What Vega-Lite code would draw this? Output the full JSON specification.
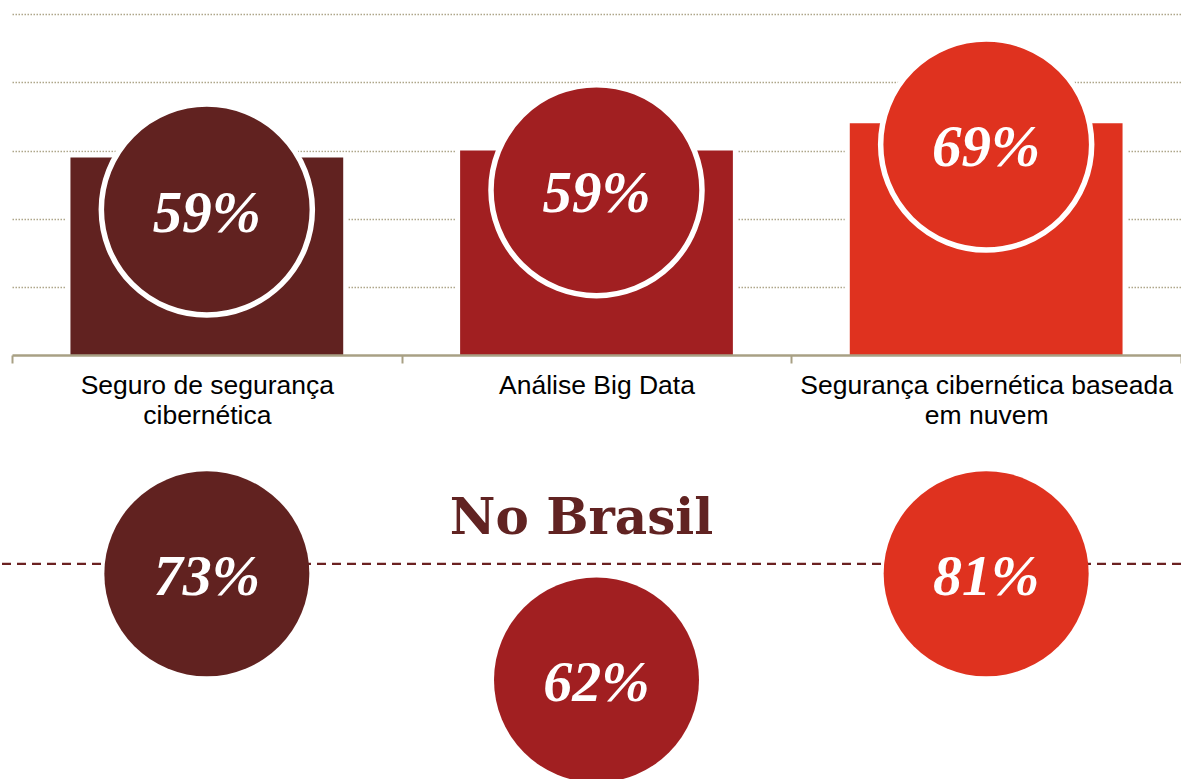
{
  "$schema": "https://vega.github.io/schema/vega-lite/v6.json",
  "width": 1181,
  "height": 779,
  "autosize": {"type": "none"},
  "padding": 0,
  "background": "white",
  "config": {"view": {"stroke": null}},
  "datasets": {
    "global": [
      {"categoria": "Seguro de segurança cibernética", "barra": 58, "percentual": 0.59},
      {"categoria": "Análise Big Data", "barra": 60, "percentual": 0.59},
      {"categoria": "Segurança cibernética baseada em nuvem", "barra": 68, "percentual": 0.69}
    ],
    "brasil": [
      {"categoria": "Seguro de segurança cibernética", "percentual": 0.73},
      {"categoria": "Análise Big Data", "percentual": 0.62},
      {"categoria": "Segurança cibernética baseada em nuvem", "percentual": 0.81}
    ]
  },
  "layer": [
    {
      "data": {"name": "global"},
      "mark": {"type": "bar", "fill": "white", "stroke": "white", "strokeWidth": 10, "width": {"band": 0.7}},
      "encoding": {
        "x": {"field": "categoria", "type": "nominal", "sort": null, "title": null, "scale": {"type": "band", "range": [12, 1181], "paddingInner": 0, "paddingOuter": 0},
          "axis": {"orient": "bottom", "offset": -424, "title": null, "domainColor": "#a8a084", "domainWidth": 2.5, "tickColor": "#a8a084", "tickWidth": 2, "tickSize": 8, "tickBand": "extent", "labelFont": "Liberation Sans", "labelFontSize": 26.5, "labelColor": "#000000", "labelPadding": 9, "labelLimit": 0, "labelOverlap": false, "labelBound": false, "labelAngle": 0, "labelLineHeight": 30, "zindex": 1, "grid": false,
            "labelExpr": "datum.label == 'Seguro de segurança cibernética' ? ['Seguro de segurança', 'cibernética'] : datum.label == 'Segurança cibernética baseada em nuvem' ? ['Segurança cibernética baseada', 'em nuvem'] : datum.label"}},
        "y": {"field": "barra", "type": "quantitative", "title": null, "scale": {"domain": [-124.4, 104.2], "nice": false, "zero": false},
          "axis": {"grid": true, "values": [20, 40, 60, 80, 100], "gridDash": [1.5, 1.5], "gridColor": "#aea68a", "gridWidth": 1.6, "domain": false, "ticks": false, "labels": false, "title": null, "zindex": 0}}
      }
    },
    {
      "data": {"name": "global"},
      "mark": {"type": "bar", "width": {"band": 0.7}},
      "encoding": {
        "x": {"field": "categoria", "type": "nominal", "sort": null, "title": null, "scale": {"type": "band", "range": [12, 1181], "paddingInner": 0, "paddingOuter": 0},
          "axis": {"orient": "bottom", "offset": -424, "title": null, "domainColor": "#a8a084", "domainWidth": 2.5, "tickColor": "#a8a084", "tickWidth": 2, "tickSize": 8, "tickBand": "extent", "labelFont": "Liberation Sans", "labelFontSize": 26.5, "labelColor": "#000000", "labelPadding": 9, "labelLimit": 0, "labelOverlap": false, "labelBound": false, "labelAngle": 0, "labelLineHeight": 30, "zindex": 1, "grid": false,
            "labelExpr": "datum.label == 'Seguro de segurança cibernética' ? ['Seguro de segurança', 'cibernética'] : datum.label == 'Segurança cibernética baseada em nuvem' ? ['Segurança cibernética baseada', 'em nuvem'] : datum.label"}},
        "y": {"field": "barra", "type": "quantitative", "title": null, "scale": {"domain": [-124.4, 104.2], "nice": false, "zero": false},
          "axis": {"grid": true, "values": [20, 40, 60, 80, 100], "gridDash": [1.5, 1.5], "gridColor": "#aea68a", "gridWidth": 1.6, "domain": false, "ticks": false, "labels": false, "title": null, "zindex": 0}},
        "color": {"field": "categoria", "type": "nominal", "sort": null, "scale": {"domain": ["Seguro de segurança cibernética", "Análise Big Data", "Segurança cibernética baseada em nuvem"], "range": ["#612220", "#a11f21", "#df321f"]}, "legend": null}
      }
    },
    {
      "data": {"name": "global"},
      "transform": [{"filter": {"field": "categoria", "equal": "Seguro de segurança cibernética"}}],
      "encoding": {
        "x": {"field": "categoria", "type": "nominal", "sort": null, "title": null, "scale": {"type": "band", "range": [12, 1181], "paddingInner": 0, "paddingOuter": 0},
          "axis": {"orient": "bottom", "offset": -424, "title": null, "domainColor": "#a8a084", "domainWidth": 2.5, "tickColor": "#a8a084", "tickWidth": 2, "tickSize": 8, "tickBand": "extent", "labelFont": "Liberation Sans", "labelFontSize": 26.5, "labelColor": "#000000", "labelPadding": 9, "labelLimit": 0, "labelOverlap": false, "labelBound": false, "labelAngle": 0, "labelLineHeight": 30, "zindex": 1, "grid": false,
            "labelExpr": "datum.label == 'Seguro de segurança cibernética' ? ['Seguro de segurança', 'cibernética'] : datum.label == 'Segurança cibernética baseada em nuvem' ? ['Segurança cibernética baseada', 'em nuvem'] : datum.label"}},
        "y": {"datum": 42.7, "type": "quantitative", "title": null, "scale": {"domain": [-124.4, 104.2], "nice": false, "zero": false},
          "axis": {"grid": true, "values": [20, 40, 60, 80, 100], "gridDash": [1.5, 1.5], "gridColor": "#aea68a", "gridWidth": 1.6, "domain": false, "ticks": false, "labels": false, "title": null, "zindex": 0}},
        "color": {"field": "categoria", "type": "nominal", "sort": null, "scale": {"domain": ["Seguro de segurança cibernética", "Análise Big Data", "Segurança cibernética baseada em nuvem"], "range": ["#612220", "#a11f21", "#df321f"]}, "legend": null}
      },
      "layer": [
        {"mark": {"type": "point", "shape": "circle", "filled": true, "size": 44521, "stroke": "white", "strokeWidth": 5.5, "opacity": 1}},
        {"mark": {"type": "text", "font": "Liberation Serif", "fontStyle": "italic", "fontWeight": "bold", "fontSize": 59, "align": "center", "baseline": "middle", "dy": 4},
         "encoding": {"text": {"field": "percentual", "type": "quantitative", "format": ".0%"}, "color": {"value": "white"}}}
      ]
    },
    {
      "data": {"name": "global"},
      "transform": [{"filter": {"field": "categoria", "equal": "Análise Big Data"}}],
      "encoding": {
        "x": {"field": "categoria", "type": "nominal", "sort": null, "title": null, "scale": {"type": "band", "range": [12, 1181], "paddingInner": 0, "paddingOuter": 0},
          "axis": {"orient": "bottom", "offset": -424, "title": null, "domainColor": "#a8a084", "domainWidth": 2.5, "tickColor": "#a8a084", "tickWidth": 2, "tickSize": 8, "tickBand": "extent", "labelFont": "Liberation Sans", "labelFontSize": 26.5, "labelColor": "#000000", "labelPadding": 9, "labelLimit": 0, "labelOverlap": false, "labelBound": false, "labelAngle": 0, "labelLineHeight": 30, "zindex": 1, "grid": false,
            "labelExpr": "datum.label == 'Seguro de segurança cibernética' ? ['Seguro de segurança', 'cibernética'] : datum.label == 'Segurança cibernética baseada em nuvem' ? ['Segurança cibernética baseada', 'em nuvem'] : datum.label"}},
        "y": {"datum": 48.4, "type": "quantitative", "title": null, "scale": {"domain": [-124.4, 104.2], "nice": false, "zero": false},
          "axis": {"grid": true, "values": [20, 40, 60, 80, 100], "gridDash": [1.5, 1.5], "gridColor": "#aea68a", "gridWidth": 1.6, "domain": false, "ticks": false, "labels": false, "title": null, "zindex": 0}},
        "color": {"field": "categoria", "type": "nominal", "sort": null, "scale": {"domain": ["Seguro de segurança cibernética", "Análise Big Data", "Segurança cibernética baseada em nuvem"], "range": ["#612220", "#a11f21", "#df321f"]}, "legend": null}
      },
      "layer": [
        {"mark": {"type": "point", "shape": "circle", "filled": true, "size": 44521, "stroke": "white", "strokeWidth": 5.5, "opacity": 1}},
        {"mark": {"type": "text", "font": "Liberation Serif", "fontStyle": "italic", "fontWeight": "bold", "fontSize": 59, "align": "center", "baseline": "middle", "dy": 4},
         "encoding": {"text": {"field": "percentual", "type": "quantitative", "format": ".0%"}, "color": {"value": "white"}}}
      ]
    },
    {
      "data": {"name": "global"},
      "transform": [{"filter": {"field": "categoria", "equal": "Segurança cibernética baseada em nuvem"}}],
      "encoding": {
        "x": {"field": "categoria", "type": "nominal", "sort": null, "title": null, "scale": {"type": "band", "range": [12, 1181], "paddingInner": 0, "paddingOuter": 0},
          "axis": {"orient": "bottom", "offset": -424, "title": null, "domainColor": "#a8a084", "domainWidth": 2.5, "tickColor": "#a8a084", "tickWidth": 2, "tickSize": 8, "tickBand": "extent", "labelFont": "Liberation Sans", "labelFontSize": 26.5, "labelColor": "#000000", "labelPadding": 9, "labelLimit": 0, "labelOverlap": false, "labelBound": false, "labelAngle": 0, "labelLineHeight": 30, "zindex": 1, "grid": false,
            "labelExpr": "datum.label == 'Seguro de segurança cibernética' ? ['Seguro de segurança', 'cibernética'] : datum.label == 'Segurança cibernética baseada em nuvem' ? ['Segurança cibernética baseada', 'em nuvem'] : datum.label"}},
        "y": {"datum": 61.8, "type": "quantitative", "title": null, "scale": {"domain": [-124.4, 104.2], "nice": false, "zero": false},
          "axis": {"grid": true, "values": [20, 40, 60, 80, 100], "gridDash": [1.5, 1.5], "gridColor": "#aea68a", "gridWidth": 1.6, "domain": false, "ticks": false, "labels": false, "title": null, "zindex": 0}},
        "color": {"field": "categoria", "type": "nominal", "sort": null, "scale": {"domain": ["Seguro de segurança cibernética", "Análise Big Data", "Segurança cibernética baseada em nuvem"], "range": ["#612220", "#a11f21", "#df321f"]}, "legend": null}
      },
      "layer": [
        {"mark": {"type": "point", "shape": "circle", "filled": true, "size": 44521, "stroke": "white", "strokeWidth": 5.5, "opacity": 1}},
        {"mark": {"type": "text", "font": "Liberation Serif", "fontStyle": "italic", "fontWeight": "bold", "fontSize": 59, "align": "center", "baseline": "middle", "dy": 4},
         "encoding": {"text": {"field": "percentual", "type": "quantitative", "format": ".0%"}, "color": {"value": "white"}}}
      ]
    },
    {
      "data": {"values": [{}]},
      "mark": {"type": "rule", "stroke": "#6b2121", "strokeWidth": 2.2, "strokeDash": [9, 6]},
      "encoding": {
        "y": {"datum": -61.3, "type": "quantitative", "title": null, "scale": {"domain": [-124.4, 104.2], "nice": false, "zero": false},
          "axis": {"grid": true, "values": [20, 40, 60, 80, 100], "gridDash": [1.5, 1.5], "gridColor": "#aea68a", "gridWidth": 1.6, "domain": false, "ticks": false, "labels": false, "title": null, "zindex": 0}}
      }
    },
    {
      "data": {"name": "brasil"},
      "transform": [{"filter": {"field": "categoria", "oneOf": ["Seguro de segurança cibernética", "Segurança cibernética baseada em nuvem"]}}],
      "encoding": {
        "x": {"field": "categoria", "type": "nominal", "sort": null, "title": null, "scale": {"type": "band", "range": [12, 1181], "paddingInner": 0, "paddingOuter": 0},
          "axis": {"orient": "bottom", "offset": -424, "title": null, "domainColor": "#a8a084", "domainWidth": 2.5, "tickColor": "#a8a084", "tickWidth": 2, "tickSize": 8, "tickBand": "extent", "labelFont": "Liberation Sans", "labelFontSize": 26.5, "labelColor": "#000000", "labelPadding": 9, "labelLimit": 0, "labelOverlap": false, "labelBound": false, "labelAngle": 0, "labelLineHeight": 30, "zindex": 1, "grid": false,
            "labelExpr": "datum.label == 'Seguro de segurança cibernética' ? ['Seguro de segurança', 'cibernética'] : datum.label == 'Segurança cibernética baseada em nuvem' ? ['Segurança cibernética baseada', 'em nuvem'] : datum.label"}},
        "y": {"datum": -64.2, "type": "quantitative", "title": null, "scale": {"domain": [-124.4, 104.2], "nice": false, "zero": false},
          "axis": {"grid": true, "values": [20, 40, 60, 80, 100], "gridDash": [1.5, 1.5], "gridColor": "#aea68a", "gridWidth": 1.6, "domain": false, "ticks": false, "labels": false, "title": null, "zindex": 0}},
        "color": {"field": "categoria", "type": "nominal", "sort": null, "scale": {"domain": ["Seguro de segurança cibernética", "Análise Big Data", "Segurança cibernética baseada em nuvem"], "range": ["#612220", "#a11f21", "#df321f"]}, "legend": null}
      },
      "layer": [
        {"mark": {"type": "point", "shape": "circle", "filled": true, "size": 42025, "strokeWidth": 0, "opacity": 1}},
        {"mark": {"type": "text", "font": "Liberation Serif", "fontStyle": "italic", "fontWeight": "bold", "fontSize": 58, "align": "center", "baseline": "middle", "dy": 4},
         "encoding": {"text": {"field": "percentual", "type": "quantitative", "format": ".0%"}, "color": {"value": "white"}}}
      ]
    },
    {
      "data": {"name": "brasil"},
      "transform": [{"filter": {"field": "categoria", "equal": "Análise Big Data"}}],
      "encoding": {
        "x": {"field": "categoria", "type": "nominal", "sort": null, "title": null, "scale": {"type": "band", "range": [12, 1181], "paddingInner": 0, "paddingOuter": 0},
          "axis": {"orient": "bottom", "offset": -424, "title": null, "domainColor": "#a8a084", "domainWidth": 2.5, "tickColor": "#a8a084", "tickWidth": 2, "tickSize": 8, "tickBand": "extent", "labelFont": "Liberation Sans", "labelFontSize": 26.5, "labelColor": "#000000", "labelPadding": 9, "labelLimit": 0, "labelOverlap": false, "labelBound": false, "labelAngle": 0, "labelLineHeight": 30, "zindex": 1, "grid": false,
            "labelExpr": "datum.label == 'Seguro de segurança cibernética' ? ['Seguro de segurança', 'cibernética'] : datum.label == 'Segurança cibernética baseada em nuvem' ? ['Segurança cibernética baseada', 'em nuvem'] : datum.label"}},
        "y": {"datum": -95.35, "type": "quantitative", "title": null, "scale": {"domain": [-124.4, 104.2], "nice": false, "zero": false},
          "axis": {"grid": true, "values": [20, 40, 60, 80, 100], "gridDash": [1.5, 1.5], "gridColor": "#aea68a", "gridWidth": 1.6, "domain": false, "ticks": false, "labels": false, "title": null, "zindex": 0}},
        "color": {"field": "categoria", "type": "nominal", "sort": null, "scale": {"domain": ["Seguro de segurança cibernética", "Análise Big Data", "Segurança cibernética baseada em nuvem"], "range": ["#612220", "#a11f21", "#df321f"]}, "legend": null}
      },
      "layer": [
        {"mark": {"type": "point", "shape": "circle", "filled": true, "size": 42025, "strokeWidth": 0, "opacity": 1}},
        {"mark": {"type": "text", "font": "Liberation Serif", "fontStyle": "italic", "fontWeight": "bold", "fontSize": 58, "align": "center", "baseline": "middle", "dy": 4},
         "encoding": {"text": {"field": "percentual", "type": "quantitative", "format": ".0%"}, "color": {"value": "white"}}}
      ]
    },
    {
      "data": {"values": [{"titulo": "No Brasil"}]},
      "mark": {"type": "text", "font": "DejaVu Serif", "fontWeight": "bold", "fontSize": 50, "color": "#612322", "align": "center", "baseline": "alphabetic", "dx": -15},
      "encoding": {
        "x": {"datum": "Análise Big Data", "type": "nominal", "title": null, "scale": {"type": "band", "range": [12, 1181], "paddingInner": 0, "paddingOuter": 0},
          "axis": {"orient": "bottom", "offset": -424, "title": null, "domainColor": "#a8a084", "domainWidth": 2.5, "tickColor": "#a8a084", "tickWidth": 2, "tickSize": 8, "tickBand": "extent", "labelFont": "Liberation Sans", "labelFontSize": 26.5, "labelColor": "#000000", "labelPadding": 9, "labelLimit": 0, "labelOverlap": false, "labelBound": false, "labelAngle": 0, "labelLineHeight": 30, "zindex": 1, "grid": false,
            "labelExpr": "datum.label == 'Seguro de segurança cibernética' ? ['Seguro de segurança', 'cibernética'] : datum.label == 'Segurança cibernética baseada em nuvem' ? ['Segurança cibernética baseada', 'em nuvem'] : datum.label"}},
        "y": {"datum": -52.5, "type": "quantitative", "title": null, "scale": {"domain": [-124.4, 104.2], "nice": false, "zero": false},
          "axis": {"grid": true, "values": [20, 40, 60, 80, 100], "gridDash": [1.5, 1.5], "gridColor": "#aea68a", "gridWidth": 1.6, "domain": false, "ticks": false, "labels": false, "title": null, "zindex": 0}},
        "text": {"field": "titulo", "type": "nominal"}
      }
    }
  ]
}
